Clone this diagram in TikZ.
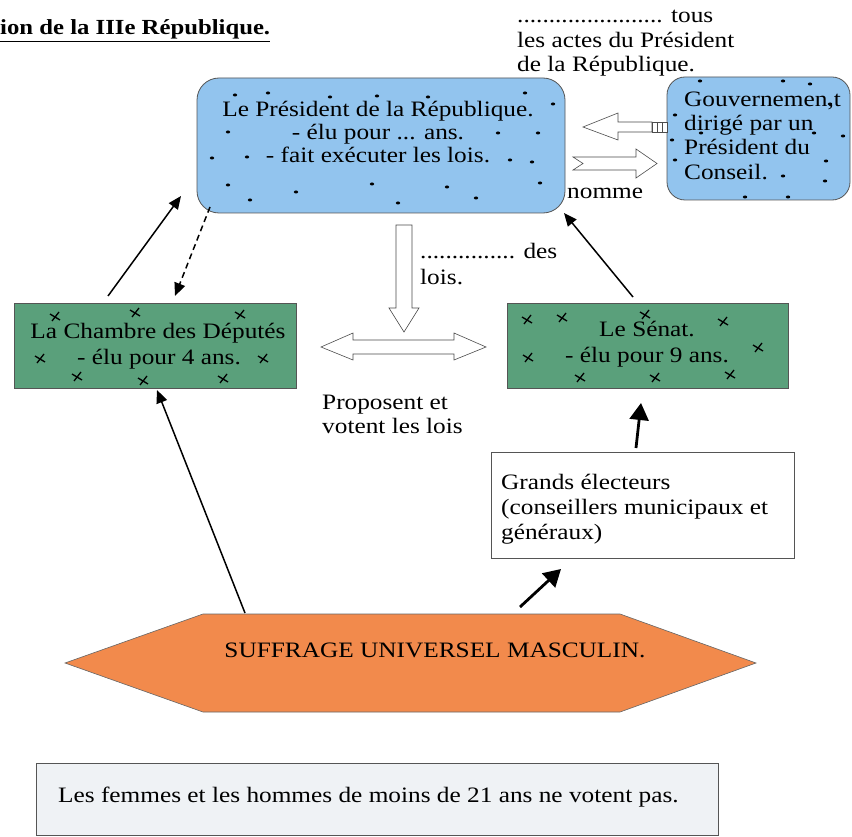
\documentclass[tikz,border=0pt]{standalone}
\usepackage{fontspec}
\setmainfont{Liberation Serif}[FakeStretch=1.15]
\usetikzlibrary{arrows.meta}
\definecolor{presblue}{HTML}{92C4EE}
\definecolor{chgreen}{HTML}{5AA07B}
\definecolor{suforange}{HTML}{F28A4C}
\definecolor{notegray}{HTML}{EFF2F5}
\definecolor{edgegray}{HTML}{555555}
\tikzset{
  x=1pt, y=-1pt,
  txt/.style={inner sep=0pt, font=\fontsize{22}{23.5}\selectfont, text=black},
  roundbox/.style={draw=edgegray, line width=0.8pt, fill=presblue, inner sep=0pt},
  greenbox/.style={draw=edgegray, line width=0.8pt, fill=chgreen, inner sep=0pt},
  plainbox/.style={draw=edgegray, line width=0.6pt, fill=white, inner sep=0pt},
  blockarrow/.style={draw=black!70, line width=0.6pt, fill=white, line join=miter},
  conn/.style={line width=1.5pt, -{Triangle[length=13pt,width=11pt]}},
  thickconn/.style={line width=2.8pt, -{Triangle[length=17pt,width=19pt]}},
  speck/.style={fill=black, draw=none},
  xmk/.style={line width=1.3pt},
}
\begin{document}
\begin{tikzpicture}
\useasboundingbox (0,0) rectangle (852,837);
\fill[white] (0,0) rectangle (852,837);

% title
\node[txt, anchor=base west, font=\fontsize{21.5}{23}\selectfont\bfseries] (title) at (0,35) {\underline{ion de la IIIe République.}};

% top-right text
\node[txt, anchor=base west] (contre1) at (517,23) {....................... tous};
\node[txt, anchor=base west] (contre2) at (517,48) {les actes du Président};
\node[txt, anchor=base west] (contre3) at (517,72) {de la République.};

% President
\node[roundbox, minimum width=368pt, minimum height=135pt, rounded corners=22pt] (pres) at (381,145.5) {};
\node[txt, anchor=base] (pres1) at (378,117) {Le Président de la République.};
\node[txt, anchor=base] (pres2) at (378,140) {- élu pour ... ans.};
\node[txt, anchor=base] (pres3) at (378,163) {- fait exécuter les lois.};
\foreach \a/\b in {235/95,268/93,330/97,377/96,428/97,525/93,553/104,228/132,498/133,538/133,212/158,247/157,510/160,532/162,228/185,250/200,296/192,372/184,398/203,447/187,476/198,540/183}
  {\fill[speck] (\a,\b) ellipse (2.2pt and 1.5pt);}

% Gouvernement
\node[roundbox, minimum width=183pt, minimum height=123pt, rounded corners=18pt] (gouv) at (758.5,138.5) {};
\node[txt, anchor=base west] (gouv1) at (684,107) {Gouvernemen,t};
\node[txt, anchor=base west] (gouv2) at (684,131) {dirigé par un};
\node[txt, anchor=base west] (gouv3) at (684,155) {Président du};
\node[txt, anchor=base west] (gouv4) at (684,180) {Conseil.};
\foreach \a/\b in {700/81,783/81,810/84,830/104,843/136,675/115,701/133,672/140,814/133,675/160,826/161,783/176,825/181,745/197,788/197}
  {\fill[speck] (\a,\b) ellipse (2.2pt and 1.5pt);}

% block arrows between president and government
\draw[blockarrow] (583,127) -- (618,113) -- (618,122) -- (652,122) -- (652,132) -- (618,132) -- (618,140) -- cycle;
\draw[blockarrow] (652,122) rectangle (657,132) (657,122) rectangle (662,132) (662,122) rectangle (667,132);
\draw[blockarrow] (573,157) -- (636,157) -- (636,149) -- (657,163.5) -- (636,178) -- (636,170) -- (573,170) -- (583,163.5) -- cycle;
\node[txt, anchor=base west] (nomme) at (567,199) {nomme};

% down block arrow
\draw[blockarrow] (396,225) -- (412,225) -- (412,308) -- (419,308) -- (404,332) -- (389,308) -- (396,308) -- cycle;
\node[txt, anchor=base west] (des) at (420,259) {............... des};
\node[txt, anchor=base west] (lois) at (420,285) {lois.};

% double block arrow
\draw[blockarrow] (321,347) -- (353,333) -- (353,340) -- (454,340) -- (454,333) -- (486,347) -- (454,360) -- (454,354) -- (353,354) -- (353,360) -- cycle;
\node[txt, anchor=base west] (propose) at (322,409) {Proposent et};
\node[txt, anchor=base west] (votent) at (322,433) {votent les lois};

% Chambre
\node[greenbox, minimum width=282pt, minimum height=85pt] (chambre) at (155,345.5) {};
\node[txt, anchor=base] (ch1) at (158,338) {La Chambre des Députés};
\node[txt, anchor=base] (ch2) at (159,364) {- élu pour 4 ans.};
\foreach \a/\b in {55/317,135/313,240/315,40/359,263/359,77/377,143/381,223/379}
  {\draw[xmk, shift={(\a,\b)}] (-5,-3) -- (5,3) (-3,4) -- (4,-5);}

% Senat
\node[greenbox, minimum width=281pt, minimum height=85pt] (senat) at (647.5,345.5) {};
\node[txt, anchor=base] (sen1) at (647,336) {Le Sénat.};
\node[txt, anchor=base] (sen2) at (647,362) {- élu pour 9 ans.};
\foreach \a/\b in {527/320,562/318,645/315,723/322,758/348,528/358,580/378,655/378,730/375}
  {\draw[xmk, shift={(\a,\b)}] (-5,-3) -- (5,3) (-3,4) -- (4,-5);}

% Grands electeurs
\node[plainbox, minimum width=303pt, minimum height=106pt] (grands) at (642.5,505) {};
\node[txt, anchor=base west] (gr1) at (501,489) {Grands électeurs};
\node[txt, anchor=base west] (gr2) at (501,514) {(conseillers municipaux et};
\node[txt, anchor=base west] (gr3) at (501,539) {généraux)};

% Suffrage
\draw[draw=black!60, line width=0.6pt, fill=suforange] (65,663) -- (203,614) -- (620,614) -- (756,663) -- (620,712) -- (203,712) -- cycle;
\node[txt, anchor=base] (suffrage) at (435,657) {SUFFRAGE UNIVERSEL MASCULIN.};
\coordinate (sufA) at (245,613);
\coordinate (sufB) at (520,607);

% note
\node[draw=edgegray, line width=0.6pt, fill=notegray, minimum width=682pt, minimum height=72pt, inner sep=0pt] (note) at (377,799.5) {};
\node[txt, anchor=base west] (notetxt) at (58,802) {Les femmes et les hommes de moins de 21 ans ne votent pas.};

% connectors
\coordinate (chTL) at (108,296);
\coordinate (presBL) at (181,196);
\coordinate (presDash) at (210,207);
\coordinate (chTop) at (175,296);
\coordinate (senTop) at (633,297);
\coordinate (presBR) at (564,213);
\coordinate (chBot) at (157,390);
\coordinate (grTop) at (636,448);
\coordinate (senBot) at (641,403);
\coordinate (grBot) at (561,569);
\draw[conn] (chTL) -- (presBL);
\draw[conn, dashed, dash pattern=on 6pt off 4pt] (presDash) -- (chTop);
\draw[conn] (senTop) -- (presBR);
\draw[conn] (sufA) -- (chBot);
\draw[thickconn] (grTop) -- (senBot);
\draw[thickconn] (sufB) -- (grBot);
\end{tikzpicture}
\end{document}
